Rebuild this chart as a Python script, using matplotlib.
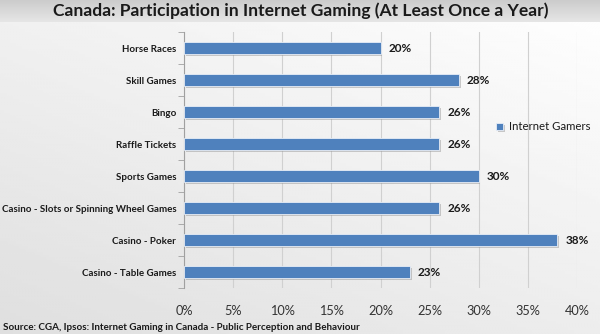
import numpy as np
import matplotlib
matplotlib.use("Agg")
import matplotlib.pyplot as plt
import matplotlib.patheffects as pe
from matplotlib.ticker import PercentFormatter

categories = [
    "Horse Races",
    "Skill Games",
    "Bingo",
    "Raffle Tickets",
    "Sports Games",
    "Casino - Slots or Spinning Wheel Games",
    "Casino - Poker",
    "Casino - Table Games",
]
internet_gamers = [20, 28, 26, 26, 30, 26, 38, 23]
x_ticks = [0, 5, 10, 15, 20, 25, 30, 35, 40]

plt.rcParams["font.family"] = ["Lato", "DejaVu Sans"]

fig = plt.figure(figsize=(6.0, 3.34), dpi=100)

# soft diagonal background: white top-right, light grey bottom-left
bg = fig.add_axes([0, 0, 1, 1], zorder=-10)
gx, gy = np.meshgrid(np.linspace(0, 1, 200), np.linspace(0, 1, 120))
shade = np.clip(1.0 - 0.09 * ((1 - gx) * 0.6 + gy * 0.8), 0, 1)
bg.imshow(shade, cmap="gray", vmin=0, vmax=1, extent=[0, 1, 0, 1],
          aspect="auto", origin="upper")
# title band
band = np.linspace(0.80, 0.90, 50).reshape(-1, 1)
bg.imshow(band, cmap="gray", vmin=0, vmax=1,
          extent=[0, 1, 1 - 22 / 334, 1], aspect="auto", origin="upper")
bg.set_xlim(0, 1)
bg.set_ylim(0, 1)
bg.axis("off")

fig.text(0.502, 1 - 11 / 334, "Canada: Participation in Internet Gaming (At Least Once a Year)",
         ha="center", va="center", fontsize=12.6, fontweight="bold", color="#1a1a1a")
fig.text(0.005, 1 - 327 / 334,
         "Source: CGA, Ipsos: Internet Gaming in Canada - Public Perception and Behaviour",
         ha="left", va="center", fontsize=7.1, fontweight="bold", color="#1a1a1a")

ax = fig.add_axes([184 / 600, 1 - 288 / 334, 393 / 600, 256 / 334])
ax.patch.set_alpha(0)

y = np.arange(len(categories))
bars = ax.barh(y, internet_gamers, height=0.38, color="#4f81bd",
               edgecolor="#e8eef7", linewidth=0.6, label="Internet Gamers", zorder=3)
for b in bars:
    b.set_path_effects([pe.SimplePatchShadow(offset=(1.2, -1.2), shadow_rgbFace="#9a9a9a", alpha=0.5),
                        pe.Normal()])

for yi, v in zip(y, internet_gamers):
    ax.text(v + 0.8, yi, f"{v}%", va="center", ha="left",
            fontsize=8.5, fontweight="bold", color="#1a1a1a")

ax.set_xlim(0, 40)
ax.set_ylim(len(categories) - 0.5, -0.5)
ax.set_xticks(x_ticks)
ax.xaxis.set_major_formatter(PercentFormatter(decimals=0))
ax.set_yticks(y)
ax.set_yticklabels(categories, fontsize=7.0, fontweight="bold", color="#1a1a1a")
ax.set_yticks(np.arange(-0.5, len(categories), 1), minor=True)
ax.tick_params(axis="y", which="major", length=0, pad=5.5)
ax.tick_params(axis="y", which="minor", length=4, color="#a0a0a0")
ax.tick_params(axis="x", length=0, pad=12, labelsize=9.2, labelcolor="#333333")

ax.grid(axis="x", color="#d0d0d0", linewidth=0.8, zorder=0)
for s in ["top", "right", "bottom"]:
    ax.spines[s].set_visible(False)
ax.spines["left"].set_color("#a0a0a0")

ax.legend(loc="center left", bbox_to_anchor=(486 / 600, 1 - 127 / 334),
          bbox_transform=fig.transFigure, frameon=False, fontsize=8.2,
          handlelength=0.6, handleheight=0.6, handletextpad=0.5, labelcolor="#1a1a1a")

fig.savefig("out.png", dpi=100)
